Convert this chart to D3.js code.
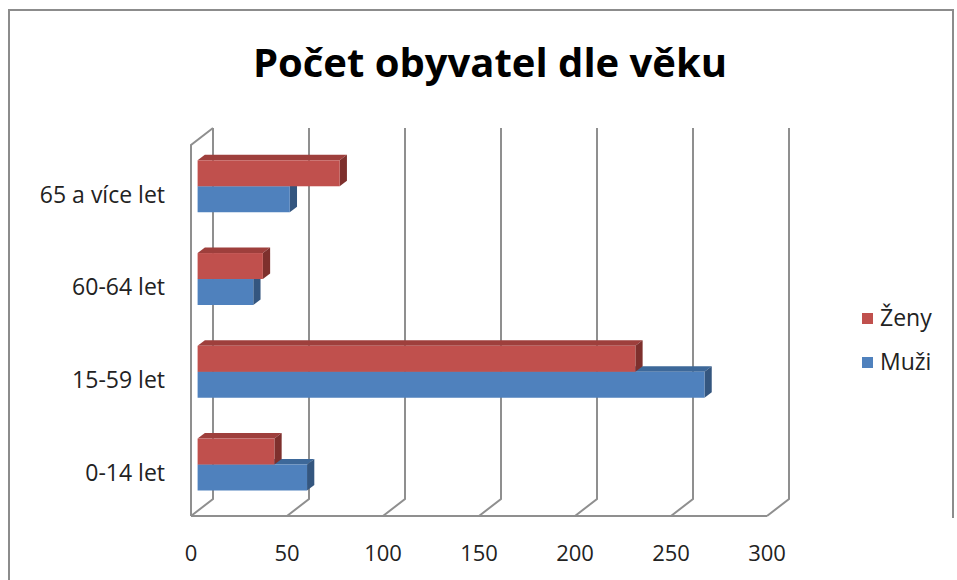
<!DOCTYPE html>
<html>
<head>
<meta charset="utf-8">
<script src="https://cdn.jsdelivr.net/npm/d3@7"></script>
<style>
  body { margin: 0; background: #fff; }
  text { font-family: "Open Sans", "Noto Sans", sans-serif; fill: #222; }
</style>
</head>
<body>
<svg></svg>
<script>
// data
const categories = ["0-14 let", "15-59 let", "60-64 let", "65 a více let"];
const series = ["Ženy", "Muži"];
const zeny = [40, 228, 34, 74];
const muzi = [57, 264, 29, 48];
const ticks = [0, 50, 100, 150, 200, 250, 300];

const W = 957, H = 580;
const svg = d3.select("body svg").attr("width", W).attr("height", H);

// outer chart border
svg.append("path")
  .attr("d", "M9,580 L9,10 L953,10 L953,518")
  .attr("fill", "none").attr("stroke", "#8c8c8c").attr("stroke-width", 2);

svg.append("text")
  .attr("x", 490).attr("y", 77)
  .attr("text-anchor", "middle")
  .style("font-size", "40px").style("font-weight", "bold").style("fill", "#000")
  .text("Počet obyvatel dle věku");

// 3D frame: front plane and depth offset
const x0 = 191, yFloor = 516, yTop = 145, DX = 22, DY = 17;
const x = d3.scaleLinear().domain([0, 300]).range([0, 576]);
const y = d3.scaleBand().domain(categories.slice().reverse())
  .range([yTop, yFloor]).paddingInner(0.44).paddingOuter(0.22);
const ys = d3.scaleBand().domain(series).range([0, y.bandwidth()]);
const P = (v, d) => [x0 + x(v) + d * DX, -d * DY];

const grid = svg.append("g").attr("stroke", "#8f8f8f").attr("stroke-width", 2).attr("fill", "none");
// left wall
grid.append("path")
  .attr("d", `M${x0},${yFloor} L${x0},${yTop} L${x0 + DX},${yTop - DY}`);
// front floor edge
grid.append("line")
  .attr("x1", x0).attr("y1", yFloor).attr("x2", x0 + x(300)).attr("y2", yFloor);
ticks.forEach(t => {
  const bx = x0 + x(t) + DX;
  grid.append("path")
    .attr("d", `M${x0 + x(t)},${yFloor} L${bx},${yFloor - DY} L${bx},${yTop - DY}`);
});

// tick labels
svg.append("g").selectAll("text").data(ticks).join("text")
  .attr("x", d => x0 + x(d)).attr("y", 561)
  .attr("text-anchor", "middle").style("font-size", "22px")
  .text(d => d);

svg.append("g").selectAll("text").data(categories).join("text")
  .attr("x", 165).attr("y", d => y(d) + y.bandwidth() / 2 + 5)
  .attr("text-anchor", "end").attr("dominant-baseline", "middle")
  .style("font-size", "23px")
  .text(d => d);

// bars
const d1 = 0.3, d2 = 0.63;
const colors = {
  "Ženy": { front: "#c0504d", top: "#9e3f3c", side: "#7e302d" },
  "Muži": { front: "#4f81bd", top: "#3d6899", side: "#34567f" }
};
const rows = [];
categories.forEach((c, i) => {
  rows.push({ cat: c, s: "Muži", v: muzi[i] });
  rows.push({ cat: c, s: "Ženy", v: zeny[i] });
});

const bars = svg.append("g");
rows.forEach(r => {
  const top = y(r.cat) + ys(r.s) - d1 * DY;
  const h = ys.bandwidth();
  const ax = P(0, d1)[0], bx = P(r.v, d1)[0];
  const ox = (d2 - d1) * DX, oy = (d2 - d1) * DY;
  const c = colors[r.s];
  const g = bars.append("g");
  g.append("polygon")
    .attr("points", [[ax, top], [bx, top], [bx + ox, top - oy], [ax + ox, top - oy]].join(" "))
    .attr("fill", c.top);
  g.append("polygon")
    .attr("points", [[bx, top], [bx + ox, top - oy], [bx + ox, top + h - oy], [bx, top + h]].join(" "))
    .attr("fill", c.side);
  g.append("rect")
    .attr("x", ax).attr("y", top).attr("width", bx - ax).attr("height", h)
    .attr("fill", c.front);
});

// legend
const legend = svg.append("g").selectAll("g").data(series).join("g")
  .attr("transform", (d, i) => `translate(862,${313 + i * 44})`);
legend.append("rect").attr("width", 11).attr("height", 11)
  .attr("fill", d => colors[d].front);
legend.append("text").attr("x", 18).attr("y", 7)
  .attr("dominant-baseline", "middle").style("font-size", "23px")
  .text(d => d);
</script>
</body>
</html>
